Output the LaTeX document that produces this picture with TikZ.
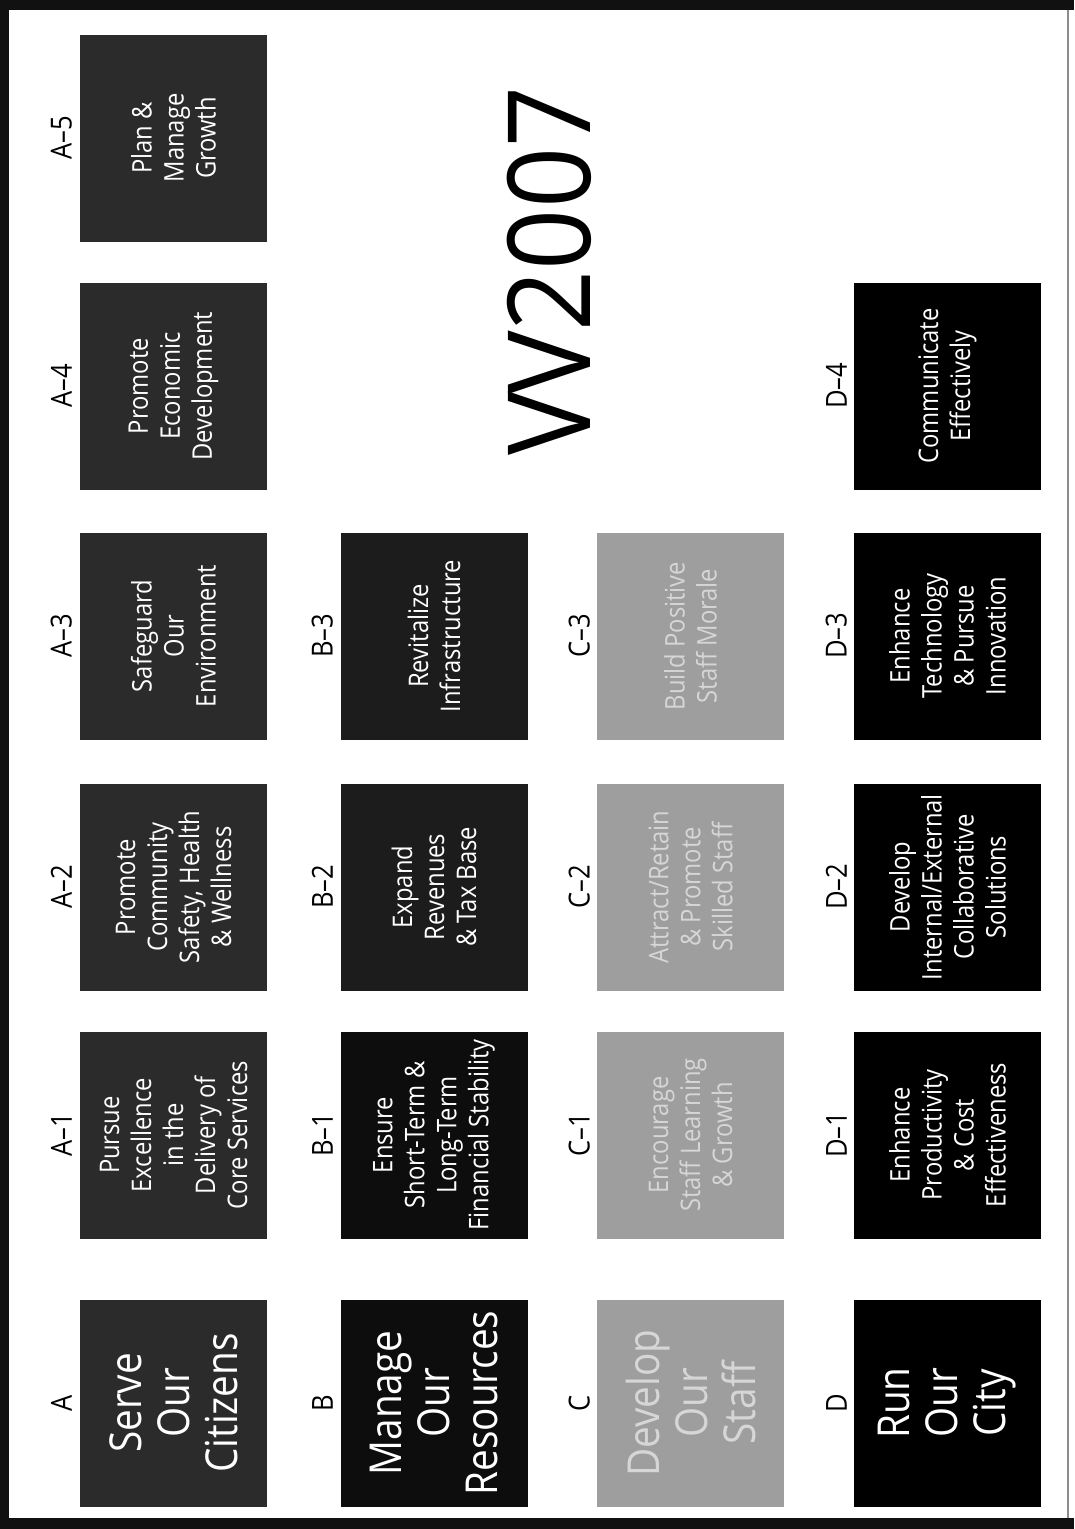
\documentclass[tikz,border=0pt]{standalone}
\usepackage{fontspec}
\usepackage{graphicx}
\setmainfont{Open Sans}
\newfontfamily\cnd[FakeStretch=0.88]{Open Sans}
\newfontfamily\ttl{Open Sans}
\definecolor{agray}{HTML}{2B2B2B}
\definecolor{bblack}{HTML}{0D0D0D}
\definecolor{bdark}{HTML}{1C1C1C}
\definecolor{cgray}{HTML}{9E9E9E}
\definecolor{ctext}{HTML}{D6D6D6}
\definecolor{frame}{HTML}{111111}
\begin{document}
\begin{tikzpicture}[x=1pt,y=-1pt,
  box/.style={rotate=90, minimum width=207pt, minimum height=187pt, inner sep=0pt,
    align=center, text=white, font=\cnd\fontsize{27}{32}\selectfont},
  mainbox/.style={rotate=90, minimum width=207pt, minimum height=187pt, inner sep=0pt,
    align=center, text=white, font=\cnd\fontsize{44}{48}\selectfont},
  lbl/.style={rotate=90, anchor=south, inner sep=0pt, text=black,
    font=\cnd\fontsize{29}{32}\selectfont},
  rowA/.style={fill=agray},
  rowB/.style={fill=bblack},
  rowBd/.style={fill=bdark},
  rowC/.style={fill=cgray, text=ctext},
  rowD/.style={fill=black}
  ]
\fill[white] (0,0) rectangle (1074,1529);
\useasboundingbox (0,0) rectangle (1074,1529);
% frame
\fill[frame] (0,0) rectangle (9,1529);
\fill[frame] (0,0) rectangle (1074,10);
\fill[frame] (0,1518) rectangle (1074,1529);
\draw[black!45, line width=1.5pt] (1068,10) -- (1068,1518);

% column A
\node[lbl] (lA)  at (72,1403) {A};
\node[mainbox,rowA] (bA) at (173.5,1403) {Serve\\Our\\Citizens};
\node[lbl] (lA1) at (72,1135) {A–1};
\node[box,rowA] (bA1) at (173.5,1135) {Pursue\\Excellence\\in the\\Delivery of\\Core Services};
\node[lbl] (lA2) at (72,887) {A–2};
\node[box,rowA] (bA2) at (173.5,887) {Promote\\Community\\Safety, Health\\\& Wellness};
\node[lbl] (lA3) at (72,636) {A–3};
\node[box,rowA] (bA3) at (173.5,636) {Safeguard\\Our\\Environment};
\node[lbl] (lA4) at (72,386) {A–4};
\node[box,rowA] (bA4) at (173.5,386) {Promote\\Economic\\Development};
\node[lbl] (lA5) at (72,138) {A–5};
\node[box,rowA] (bA5) at (173.5,138) {Plan \&\\Manage\\Growth};

% column B
\node[lbl] (lB)  at (333,1403) {B};
\node[mainbox,rowB] (bB) at (434,1403) {Manage\\Our\\Resources};
\node[lbl] (lB1) at (333,1135) {B–1};
\node[box,rowB] (bB1) at (434,1135) {Ensure\\Short-Term \&\\Long-Term\\Financial Stability};
\node[lbl] (lB2) at (333,887) {B–2};
\node[box,rowBd] (bB2) at (434,887) {Expand\\Revenues\\\& Tax Base};
\node[lbl] (lB3) at (333,636) {B–3};
\node[box,rowBd] (bB3) at (434,636) {Revitalize\\Infrastructure};

% column C
\node[lbl] (lC)  at (590,1403) {C};
\node[mainbox,rowC] (bC) at (690.5,1403) {Develop\\Our\\Staff};
\node[lbl] (lC1) at (590,1135) {C–1};
\node[box,rowC] (bC1) at (690.5,1135) {Encourage\\Staff Learning\\\& Growth};
\node[lbl] (lC2) at (590,887) {C–2};
\node[box,rowC] (bC2) at (690.5,887) {Attract/Retain\\\& Promote\\Skilled Staff};
\node[lbl] (lC3) at (590,636) {C–3};
\node[box,rowC] (bC3) at (690.5,636) {Build Positive\\Staff Morale};

% column D
\node[lbl] (lD)  at (847,1403) {D};
\node[mainbox,rowD] (bD) at (947.5,1403) {Run\\Our\\City};
\node[lbl] (lD1) at (847,1135) {D–1};
\node[box,rowD] (bD1) at (947.5,1135) {Enhance\\Productivity\\\& Cost\\Effectiveness};
\node[lbl] (lD2) at (847,887) {D–2};
\node[box,rowD] (bD2) at (947.5,887) {Develop\\Internal/External\\Collaborative\\Solutions};
\node[lbl] (lD3) at (847,636) {D–3};
\node[box,rowD] (bD3) at (947.5,636) {Enhance\\Technology\\\& Pursue\\Innovation};
\node[lbl] (lD4) at (847,386) {D–4};
\node[box,rowD] (bD4) at (947.5,386) {Communicate\\Effectively};

% title
\node[rotate=90, inner sep=0pt, text=black, font=\ttl\fontsize{115}{115}\selectfont]
  (title) at (549,271) {\scalebox{0.93}[1]{V\kern-0.03em V2007}};
\end{tikzpicture}
\end{document}
